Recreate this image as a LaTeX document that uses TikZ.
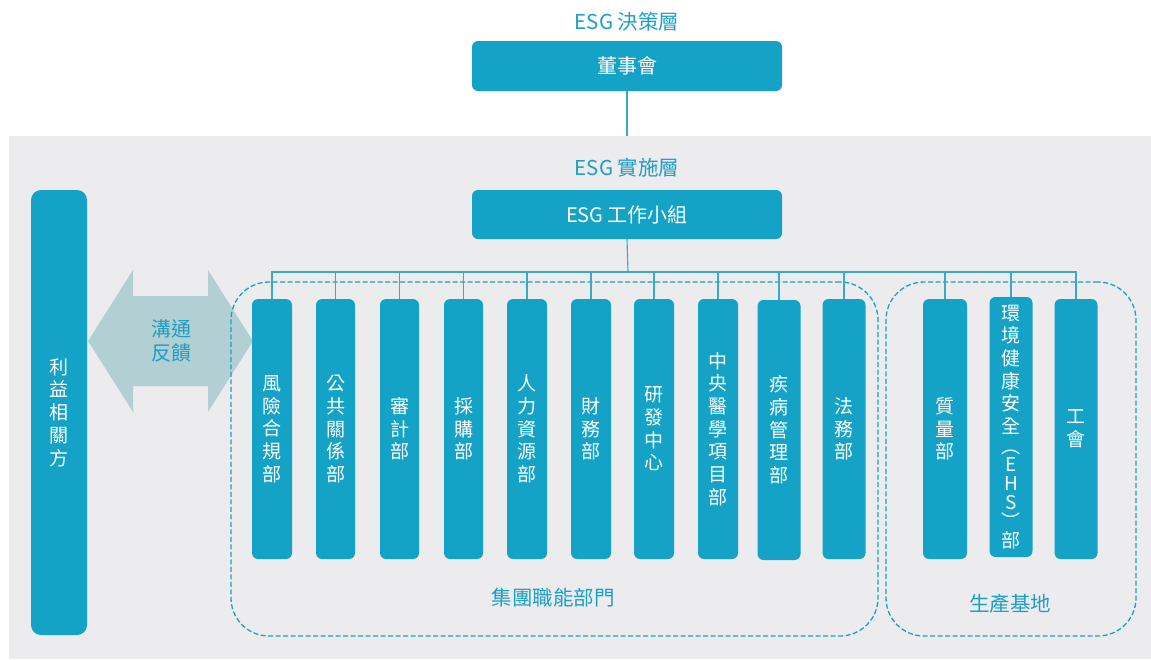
\documentclass[tikz,border=0pt]{standalone}
\usepackage{fontspec}
\setmainfont{Noto Sans CJK TC}
\usepackage{tikz}
\usetikzlibrary{calc}
\definecolor{esgblue}{HTML}{14A3C6}
\definecolor{esgtext}{HTML}{1C9FC7}
\definecolor{esggray}{HTML}{ECECEE}
\definecolor{esgarrow}{HTML}{B2D0D3}
\definecolor{esgline}{HTML}{3AA8C8}
\tikzset{
  bluebox/.style={rectangle, rounded corners=6, fill=esgblue, text=white, inner sep=0pt, align=center, font=\fontsize{19}{22.7}\selectfont},
  layertitle/.style={text=esgtext, inner sep=0pt, font=\fontsize{20.5}{24}\selectfont},
  grouptitle/.style={text=esgtext, inner sep=0pt, font=\fontsize{20.5}{24}\selectfont},
  groupbox/.style={rectangle, rounded corners=38, draw=esgblue, line width=1.3pt, dash pattern=on 5pt off 2.5pt, inner sep=0pt},
  link/.style={draw=esgline, line width=1.1pt}
}

\begin{document}
\begin{tikzpicture}[x=1pt,y=-1pt]
			%%%%% START %%%%%
			\useasboundingbox (0,0) rectangle (1151,659);
			
			\fill[esggray] (9,136) rectangle (1151,659);
			
			% decision layer
			\node[layertitle] (toptitle) at (627,22) {ESG 決策層};
			\node[bluebox, font=\fontsize{20}{24}\selectfont, minimum width=310, minimum height=50] (board) at (627,66) {董事會};
			\coordinate (graytop) at (627,136);
			\draw[link] (board.south) -- (graytop);
			
			% implementation layer
			\node[layertitle] (midtitle) at (627,168) {ESG 實施層};
			\node[bluebox, font=\fontsize{20}{24}\selectfont, minimum width=310, minimum height=49] (wg) at (627,214.5) {ESG 工作小組};
			
			% stakeholders and feedback arrow
			\node[bluebox, rounded corners=10, minimum width=56, minimum height=445] (stake) at (59,412.5) {利\\益\\相\\關\\方};
			\fill[esgarrow] (88,341) -- (133,270) -- (133,296) -- (208,296) -- (208,270) -- (253,341)
			  -- (208,412) -- (208,386) -- (133,386) -- (133,412) -- cycle;
			\node[text=esgtext, align=center, font=\fontsize{20}{24}\selectfont] (feedback) at (171,341) {溝通\\反饋};
			
			% groups
			\node[groupbox, minimum width=647, minimum height=354] (corp) at (554.5,459) {};
			\node[groupbox, minimum width=250, minimum height=354] (plant) at (1011,459) {};
			\node[grouptitle] (corptitle) at (553,598) {集團職能部門};
			\node[grouptitle] (planttitle) at (1010,604) {生產基地};
			
			% departments
			\foreach \name/\cx/\cy/\w/\lab in {
			  d1/272/429/40/{風\\險\\合\\規\\部},
			  d2/335.5/429/39/{公\\共\\關\\係\\部},
			  d3/399.5/429/39/{審\\計\\部},
			  d4/463.5/429/39/{採\\購\\部},
			  d5/527/429/40/{人\\力\\資\\源\\部},
			  d6/591/429/40/{財\\務\\部},
			  d7/654/429/40/{研\\發\\中\\心},
			  d8/718/429/40/{中\\央\\醫\\學\\項\\目\\部},
			  d9/779/430/43/{疾\\病\\管\\理\\部},
			  d10/844/429/43/{法\\務\\部},
			  d11/945/429/44/{質\\量\\部},
			  d12/1011/427/43/{環\\境\\健\\康\\安\\全\\[-3pt]︵\\[-4pt]E\\[-4pt]H\\[-4pt]S\\[-4pt]︶\\[-3pt]部},
			  d13/1076/429/43/{工\\會}}{
			  \node[bluebox, minimum width=\w, minimum height=260] (\name) at (\cx,\cy) {\lab};
			}
			
			% connectors
			\coordinate (bus) at (628,272);
			\draw[link] (wg.south) -- (bus);
			\draw[link] (d1.north) -- (d1.north |- bus) -- (d13.north |- bus) -- (d13.north);
			\foreach \name in {d2,d3,d4,d5,d6,d7,d8,d9,d10,d11,d12}{
			  \draw[link] (\name.north) -- (\name.north |- bus);
			}
			
			%%%%% END %%%%%
\end{tikzpicture}
\end{document}
